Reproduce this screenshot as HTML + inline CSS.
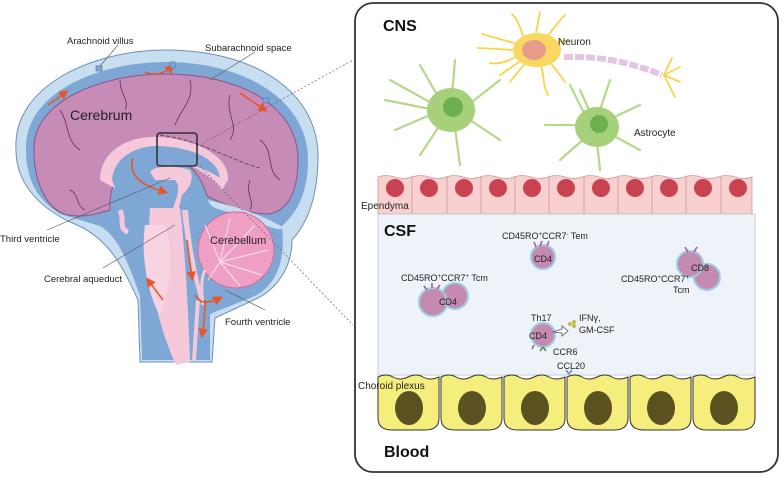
<!DOCTYPE html>
<html><head><meta charset="utf-8"><style>
html,body{margin:0;padding:0;background:#fff;}
svg{display:block;font-family:"Liberation Sans",Arial,sans-serif;}
</style></head><body>
<svg width="784" height="478" viewBox="0 0 784 478" xmlns="http://www.w3.org/2000/svg">
<defs>
<marker id="ar" markerWidth="6" markerHeight="6" refX="4" refY="3" orient="auto"><path d="M0,0 L6,3 L0,6 Z" fill="#e8562a"/></marker>
</defs>
<!-- Brain -->
<path d="M16,150 C12,85 95,50 165,50 C255,50 320,92 318,160 C317,205 303,228 292,240 C292,262 282,285 258,298 L215,318 L212,362 L140,362 L138,300 C120,260 105,235 70,222 C35,205 16,180 16,150 Z" fill="#c7def0" stroke="#6f8fb8" stroke-width="1"/>
<path d="M26,150 C24,92 100,62 165,62 C245,62 308,100 308,160 C308,196 295,214 282,226 C286,262 276,288 250,298 L210,314 L210,360 L142,360 L140,296 C128,262 118,236 100,226 L60,214 C38,200 26,180 26,150 Z" fill="#7fa7d6"/>
<path d="M34,150 C32,102 100,74 165,74 C240,74 298,106 298,160 C298,196 285,212 268,214 C248,214 222,204 207,196 C198,165 175,150 145,156 C118,162 108,190 110,210 C96,214 85,218 68,215 C46,210 34,182 34,150 Z" fill="#c78bb8" stroke="#8e5582" stroke-width="1"/>
<g stroke="#5e3358" stroke-width="0.8" fill="none">
<path d="M60,110 C70,125 65,140 80,150"/><path d="M120,80 C120,95 130,100 125,110"/><path d="M190,80 C195,100 180,110 175,125"/><path d="M230,95 C225,115 240,125 230,140"/><path d="M260,140 C275,150 265,170 280,180"/><path d="M70,190 C80,195 75,205 85,210"/><path d="M250,180 C245,195 255,200 250,210"/>
</g>
<path d="M100,180 C100,150 130,135 160,137 C200,140 230,158 228,180 L222,190 C210,175 190,160 160,160 C135,160 122,172 118,190 Z" fill="#f6c9da"/>
<path d="M112,180 C114,155 140,145 160,146 C195,148 218,160 220,178 C205,168 188,162 165,164 C150,170 150,180 165,185 L205,190 L205,200 L180,205 L120,200 Z" fill="#7fa7d6"/>
<path d="M150,172 C155,165 175,165 190,170 C195,180 188,190 182,195 L178,212 L172,212 C176,198 182,188 175,180 L155,180 Z" fill="#f6c9da"/>
<path d="M208,200 C230,205 262,214 284,228 C280,232 262,225 240,215 C225,210 210,210 208,200 Z" fill="#c7def0"/>
<path d="M150,208 L180,208 C184,240 188,300 190,362 L176,365 C160,330 145,280 150,208 Z" fill="#f6c9da"/>
<path d="M145,225 C140,260 150,300 160,315 C170,290 175,250 165,225 Z" fill="#f8d4e2"/>
<path d="M182,210 C185,240 192,275 200,300 L203,298 C196,270 190,240 188,210 Z" fill="#f6c9da"/>
<path d="M196,300 L200,300 L196,360 L192,360 Z" fill="#f6c9da"/>
<path d="M120,210 C125,220 118,228 128,232" stroke="#f6c9da" stroke-width="5" fill="none"/>
<circle cx="236" cy="250" r="38" fill="#ef9fc3" stroke="#c86b9a" stroke-width="1"/>
<g stroke="#fde6f0" stroke-width="1" fill="none">
<path d="M220,262 L205,225"/><path d="M220,262 L230,218"/><path d="M220,262 L255,225"/><path d="M220,262 L268,250"/><path d="M220,262 L262,275"/><path d="M220,262 L240,286"/><path d="M220,262 L208,280"/>
</g>
<path d="M205,270 C200,280 202,295 203,305" stroke="#f6c9da" stroke-width="3" fill="none"/>
<g stroke="#e8562a" stroke-width="1.6" fill="none" marker-end="url(#ar)">
<path d="M48,105 L66,92"/><path d="M145,72 C155,76 165,74 172,66"/><path d="M240,93 L265,110"/>
<path d="M133,158 C128,175 140,185 165,192"/><path d="M187,240 L192,278"/><path d="M163,300 L148,280"/>
<path d="M195,295 C200,305 210,303 220,298"/><path d="M205,300 C205,315 204,325 202,335"/>
</g>
<g fill="#7fa7d6" stroke="#4f6f9a" stroke-width="0.6"><rect x="96" y="66" width="6" height="5"/><rect x="170" y="62" width="5" height="6"/><rect x="263" y="98" width="6" height="5"/></g>
<rect x="157" y="133" width="40" height="33" rx="3" fill="none" stroke="#333" stroke-width="1.6"/>
<path d="M160,135 C200,140 230,160 260,168" stroke="#333" stroke-width="0.7" stroke-dasharray="4 2" fill="none"/>
<g stroke="#555" stroke-width="0.6" fill="none">
<path d="M118,45 L100,66"/><path d="M255,52 L210,80"/><path d="M47,230 L170,178"/><path d="M103,268 L175,225"/><path d="M265,310 L225,290"/>
</g>
<g stroke="#666" stroke-width="0.7" stroke-dasharray="2 2" fill="none">
<path d="M203,143 L353,60"/><path d="M197,163 L353,325"/>
</g>
<g font-size="9.5" fill="#222">
<text x="67" y="44">Arachnoid villus</text>
<text x="205" y="51">Subarachnoid space</text>
<text x="0" y="242">Third ventricle</text>
<text x="44" y="282">Cerebral aqueduct</text>
<text x="225" y="325">Fourth ventricle</text>
</g>
<text x="70" y="120" font-size="14" fill="#222">Cerebrum</text>
<text x="210" y="244" font-size="11" fill="#222">Cerebellum</text>

<rect x="355" y="3" width="423" height="469" rx="18" fill="#fff" stroke="#333" stroke-width="1.8"/>
<text x="383" y="31" font-size="16" font-weight="bold" fill="#111">CNS</text>
<g stroke="#f5d54a" stroke-width="1.8" fill="none" stroke-linecap="round">
<path d="M520,45 C505,40 495,38 482,34"/><path d="M525,40 C520,30 520,22 512,14"/><path d="M535,38 L540,12"/><path d="M545,40 C552,30 558,22 565,15"/><path d="M520,55 C510,60 500,65 490,63"/><path d="M528,60 C520,70 515,75 510,82"/><path d="M540,62 C545,75 542,85 548,95"/><path d="M548,60 C555,68 560,75 565,82"/><path d="M515,50 L478,48"/><path d="M550,44 L568,40"/><path d="M525,58 L500,75"/>
<path d="M664,75 L672,58"/><path d="M664,75 L680,67"/><path d="M664,75 L680,82"/><path d="M664,75 L675,97"/>
</g>
<ellipse cx="537" cy="50" rx="24" ry="17" fill="#f8d860"/>
<ellipse cx="534" cy="50" rx="12" ry="10" fill="#e79b8a"/>
<path d="M564,57 C600,56 630,62 662,75" stroke="#e3c6e3" stroke-width="6" stroke-dasharray="9 2" fill="none"/>
<text x="558" y="45" font-size="10" fill="#222">Neuron</text>
<g stroke="#b5d88a" stroke-width="2.2" fill="none" stroke-linecap="round">
<path d="M440,100 L420,65"/><path d="M435,105 L390,80"/><path d="M430,115 L395,130"/><path d="M440,125 L420,155"/><path d="M455,128 L460,165"/><path d="M470,120 L500,140"/><path d="M468,105 L500,80"/><path d="M452,95 L455,60"/><path d="M435,110 L385,100"/>
<path d="M585,115 L570,85"/><path d="M580,125 L545,125"/><path d="M585,138 L560,160"/><path d="M597,142 L600,170"/><path d="M612,135 L640,150"/><path d="M612,118 L640,105"/><path d="M600,110 L610,80"/><path d="M590,112 L580,90"/>
</g>
<ellipse cx="451" cy="110" rx="24" ry="22" fill="#a6d07a"/><circle cx="453" cy="107" r="10" fill="#6fb04e"/>
<ellipse cx="597" cy="127" rx="22" ry="20" fill="#a6d07a"/><circle cx="599" cy="124" r="9" fill="#6fb04e"/>
<text x="634" y="136" font-size="10" fill="#222">Astrocyte</text>
<g>
<path d="M378,177 q8,-3 17,0 t17,0 t17,0 t17,0 t17,0 t17,0 t17,0 t17,0 t17,0 t17,0 t17,0 t17,0 t17,0 t17,0 t17,0 t17,0 t17,0 t17,0 t17,0 t17,0 t17,0 t17,0 V214 H378 Z" fill="#f8d0d0" stroke="#c99" stroke-width="0.8"/>
<g stroke="#c99" stroke-width="0.8">
<path d="M412,176V214M447,176V214M481,176V214M515,176V214M549,176V214M584,176V214M618,176V214M652,176V214M686,176V214M721,176V214"/>
</g>
<g fill="#c9424f">
<circle cx="395" cy="188" r="9"/><circle cx="429" cy="188" r="9"/><circle cx="464" cy="188" r="9"/><circle cx="498" cy="188" r="9"/><circle cx="532" cy="188" r="9"/><circle cx="566" cy="188" r="9"/><circle cx="601" cy="188" r="9"/><circle cx="635" cy="188" r="9"/><circle cx="669" cy="188" r="9"/><circle cx="703" cy="188" r="9"/><circle cx="738" cy="188" r="9"/>
</g>
</g>
<text x="361" y="209" font-size="10" fill="#222">Ependyma</text>
<rect x="378" y="214" width="377" height="161" fill="#eef3fa" stroke="#b8c4d4" stroke-width="0.8"/>
<text x="384" y="236" font-size="16" font-weight="bold" fill="#111">CSF</text>
<g fill="#f5ee7c" stroke="#333" stroke-width="1">
<path d="M378,377 q8,-4 15,0 t15,0 t15,0 t16,0 V418 Q439,430 425,430 H392 Q378,430 378,418 Z"/>
<path d="M441,377 q8,-4 15,0 t15,0 t15,0 t16,0 V418 Q502,430 488,430 H455 Q441,430 441,418 Z"/>
<path d="M504,377 q8,-4 15,0 t15,0 t15,0 t16,0 V418 Q565,430 551,430 H518 Q504,430 504,418 Z"/>
<path d="M567,377 q8,-4 15,0 t15,0 t15,0 t16,0 V418 Q628,430 614,430 H581 Q567,430 567,418 Z"/>
<path d="M630,377 q8,-4 15,0 t15,0 t15,0 t16,0 V418 Q691,430 677,430 H644 Q630,430 630,418 Z"/>
<path d="M693,377 q8,-4 15,0 t15,0 t15,0 t17,0 V418 Q755,430 741,430 H707 Q693,430 693,418 Z"/>
</g>
<g fill="#5a5220">
<ellipse cx="409" cy="408" rx="14" ry="17"/><ellipse cx="472" cy="408" rx="14" ry="17"/><ellipse cx="535" cy="408" rx="14" ry="17"/><ellipse cx="598" cy="408" rx="14" ry="17"/><ellipse cx="661" cy="408" rx="14" ry="17"/><ellipse cx="724" cy="408" rx="14" ry="17"/>
</g>
<text x="358" y="389" font-size="10" fill="#222">Choroid plexus</text>
<text x="384" y="457" font-size="16" font-weight="bold" fill="#111">Blood</text>
<g fill="#c58ab0" stroke="#9fcbe6" stroke-width="2">
<circle cx="543" cy="257" r="12"/>
<circle cx="455" cy="296" r="13"/><circle cx="433" cy="302" r="14"/>
<circle cx="707" cy="277" r="13"/><circle cx="690" cy="264" r="13"/>
<circle cx="543" cy="335" r="12"/>
</g>
<g font-size="9" fill="#222">
<text x="543" y="262" text-anchor="middle">CD4</text>
<text x="448" y="305" text-anchor="middle">CD4</text>
<text x="700" y="271" text-anchor="middle">CD8</text>
<text x="538" y="339" text-anchor="middle">CD4</text>
<text x="502" y="239">CD45RO<tspan font-size="6" dy="-3">+</tspan><tspan dy="3">CCR7</tspan><tspan font-size="6" dy="-3">-</tspan><tspan dy="3"> Tem</tspan></text>
<text x="401" y="281">CD45RO<tspan font-size="6" dy="-3">+</tspan><tspan dy="3">CCR7</tspan><tspan font-size="6" dy="-3">+</tspan><tspan dy="3"> Tcm</tspan></text>
<text x="621" y="282">CD45RO<tspan font-size="6" dy="-3">+</tspan><tspan dy="3">CCR7</tspan><tspan font-size="6" dy="-3">+</tspan></text>
<text x="673" y="293">Tcm</text>
<text x="531" y="321">Th17</text>
<text x="579" y="321">IFNγ,</text>
<text x="579" y="333">GM-CSF</text>
<text x="553" y="355">CCR6</text>
<text x="557" y="369">CCL20</text>
</g>
<g stroke="#9a5a8a" stroke-width="1.5" fill="none">
<path d="M536,247 l-2,-5 M540,246 l2,-5 M547,246 l2,-5"/>
<path d="M427,290 l-3,-4 M432,288 l0,-5 M437,289 l3,-4"/>
<path d="M688,252 l-3,-5 M694,252 l3,-5"/>
<path d="M534,345 l-2,4"/>
</g>
<path d="M543,347 l-3,4 M543,347 l3,4" stroke="#4a8a4a" stroke-width="1.5"/>
<path d="M569,374 l-3,-4 M569,374 l3,-4" stroke="#6a8ac8" stroke-width="1.5"/>
<path d="M553,332 L562,329 L562,326 L568,331 L562,336 L562,333 Z" fill="#fff" stroke="#555" stroke-width="0.8"/>
<g fill="#c8b84a"><circle cx="570" cy="324" r="2"/><circle cx="574" cy="322" r="2"/><circle cx="574" cy="326" r="2"/></g>
</svg>
</body></html>
